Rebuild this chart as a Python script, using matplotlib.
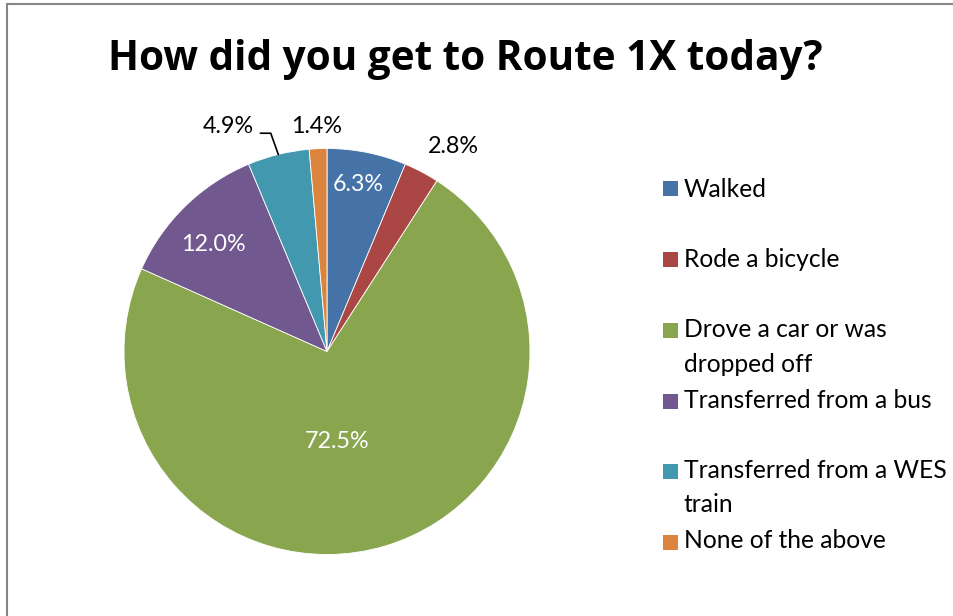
import numpy as np
import matplotlib
matplotlib.use('Agg')
import matplotlib.pyplot as plt
from matplotlib.patches import Rectangle

plt.rcParams['font.family'] = ['Lato', 'DejaVu Sans']

W, H = 954, 616

title = 'How did you get to Route 1X today?'
categories = ['Walked', 'Rode a bicycle', 'Drove a car or was\ndropped off',
              'Transferred from a bus', 'Transferred from a WES\ntrain', 'None of the above']
values = [6.3, 2.8, 72.5, 12.0, 4.9, 1.4]
colors = ['#4572A7', '#AA4643', '#89A54E', '#71588F', '#4198AF', '#DB843D']

# label placement (radius in pie units, angle shift in degrees, inside?)
label_r = [0.836, 1.185, 0.446, 0.767, 1.211, 1.109]
label_dt = [0.8, -3.9, -10.4, 2.5, 9.9, 0.0]
label_inside = [True, False, True, True, False, False]

# legend rows in pixels: square centre y, text baselines
legend_sq_y = [188.5, 259, 330, 401, 471, 542.5]
legend_base = [[196.7], [266.7], [336.7, 371.5], [408.3], [478.3, 511.7], [548.3]]


def px(x, y):
    return x / W, 1 - y / H


fig = plt.figure(figsize=(W / 100, H / 100), dpi=100)

# chart border (cropped, only top and left visible)
fig.add_artist(plt.Line2D([7.5 / W, 7.5 / W], [0, 1 - 4 / H], color='#868686', lw=1.5))
fig.add_artist(plt.Line2D([7.5 / W, 1], [1 - 4 / H, 1 - 4 / H], color='#868686', lw=1.5))

fig.text(*px(465, 70), title, ha='center', va='baseline', fontsize=29.2,
         fontweight='bold', family=['Open Sans', 'DejaVu Sans'])

# pie centre (327, 351.5), radius 203 px
cx, cy, R = 327, 351.5, 203
half = 250
ax = fig.add_axes([(cx - half) / W, 1 - (cy + half) / H, 2 * half / W, 2 * half / H])
wedges, _ = ax.pie(values, colors=colors, startangle=90, counterclock=False,
                   wedgeprops=dict(edgecolor='white', linewidth=0.6))
ax.set_xlim(-half / R, half / R)
ax.set_ylim(-half / R, half / R)
ax.set_aspect('equal')
ax.axis('off')

for i, w in enumerate(wedges):
    mid = (w.theta1 + w.theta2) / 2
    ang = np.deg2rad(mid + label_dt[i])
    lx, ly = label_r[i] * np.cos(ang), label_r[i] * np.sin(ang)
    ax.text(lx, ly, f'{values[i]:.1f}%', ha='center', va='center', fontsize=16.8,
            color='white' if label_inside[i] else 'black')
    if label_dt[i] > 5:
        # leader line from label to wedge edge
        ex, ey = np.cos(np.deg2rad(mid)), np.sin(np.deg2rad(mid))
        sx, sy = lx + 0.161, ly - 0.033
        ax.plot([sx, sx + 0.05, ex], [sy, sy, ey], color='black', lw=1.2,
                solid_joinstyle='miter')

# legend
for i, cat in enumerate(categories):
    x0, y0 = px(663, legend_sq_y[i] + 7.5)
    fig.add_artist(Rectangle((x0, y0), 15 / W, 15 / H, transform=fig.transFigure,
                             facecolor=colors[i], edgecolor='none'))
    for line, base in zip(cat.split('\n'), legend_base[i]):
        fig.text(*px(684, base), line, ha='left', va='baseline', fontsize=17.7)

fig.savefig('out.png', dpi=100)
